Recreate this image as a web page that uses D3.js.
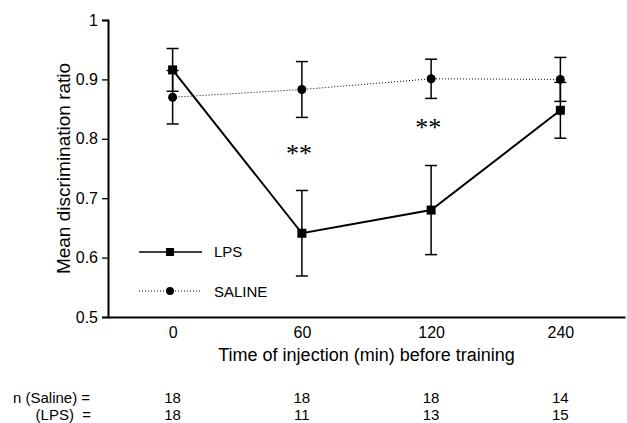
<!DOCTYPE html>
<html>
<head>
<meta charset="utf-8">
<script src="https://cdn.jsdelivr.net/npm/d3@7"></script>
<style>
  body { margin: 0; background: #fff; }
  text { font-family: "Liberation Sans", Arial, sans-serif; fill: #000; }
</style>
</head>
<body>
<div id="chart"></div>
<script>
// Data
const times = ["0", "60", "120", "240"];
const salineMean = [0.870, 0.883, 0.901, 0.900];
const salineErr = [0.045, 0.047, 0.033, 0.037];
const lpsMean = [0.916, 0.641, 0.680, 0.848];
const lpsErr = [0.036, 0.072, 0.075, 0.047];
const nSaline = [18, 18, 18, 14];
const nLps = [18, 11, 13, 15];
const yTicks = [0.5, 0.6, 0.7, 0.8, 0.9, 1];
const signifTimes = ["60", "120"];

const width = 627, height = 423;
const margin = {top: 20, right: 2, bottom: 106, left: 108};

const svg = d3.select("#chart").append("svg")
    .attr("width", width)
    .attr("height", height);

const x = d3.scalePoint()
    .domain(times)
    .range([margin.left, width - margin.right])
    .padding(0.5);

const y = d3.scaleLinear()
    .domain([0.5, 1])
    .range([height - margin.bottom, margin.top]);

// Y axis
const yAxis = svg.append("g")
    .attr("transform", `translate(${margin.left},0)`)
    .call(d3.axisLeft(y).tickValues(yTicks).tickFormat(d => d === 1 ? "1" : d3.format(".1f")(d)).tickSize(6).tickPadding(4));
yAxis.select(".domain").attr("stroke-width", 2);
yAxis.selectAll(".tick line").attr("stroke-width", 1.3);
yAxis.selectAll("text").style("font-size", "16px");

// X axis (line only, no tick marks)
const xAxis = svg.append("g")
    .attr("transform", `translate(0,${y(0.5)})`)
    .call(d3.axisBottom(x).tickSize(0).tickPadding(10).tickSizeOuter(0));
xAxis.select(".domain").attr("stroke-width", 2);
xAxis.selectAll("text").style("font-size", "16px");

// Axis titles
svg.append("text")
    .attr("transform", `translate(70,${(y(0.5) + y(1)) / 2}) rotate(-90)`)
    .attr("text-anchor", "middle")
    .style("font-size", "19px")
    .text("Mean discrimination ratio");

svg.append("text")
    .attr("x", (x("0") + x("240")) / 2)
    .attr("y", 361)
    .attr("text-anchor", "middle")
    .style("font-size", "18px")
    .text("Time of injection (min) before training");

const saline = times.map((t, i) => ({t: t, m: salineMean[i], e: salineErr[i]}));
const lps = times.map((t, i) => ({t: t, m: lpsMean[i], e: lpsErr[i]}));

const line = d3.line().x(d => x(d.t)).y(d => y(d.m));

// Saline series (dotted)
svg.append("path")
    .datum(saline)
    .attr("d", line)
    .attr("fill", "none")
    .attr("stroke", "#000")
    .attr("stroke-width", 1)
    .attr("stroke-dasharray", "1,2");

// LPS series (solid)
svg.append("path")
    .datum(lps)
    .attr("d", line)
    .attr("fill", "none")
    .attr("stroke", "#000")
    .attr("stroke-width", 2);

// Error bars
function errorBars(data) {
    const g = svg.append("g").attr("stroke", "#000").attr("stroke-width", 1.5);
    data.forEach(d => {
        const cx = x(d.t);
        g.append("line").attr("x1", cx).attr("x2", cx).attr("y1", y(d.m - d.e)).attr("y2", y(d.m + d.e));
        g.append("line").attr("x1", cx - 6).attr("x2", cx + 6).attr("y1", y(d.m + d.e)).attr("y2", y(d.m + d.e));
        g.append("line").attr("x1", cx - 6).attr("x2", cx + 6).attr("y1", y(d.m - d.e)).attr("y2", y(d.m - d.e));
    });
}
errorBars(saline);
errorBars(lps);

// Markers
svg.selectAll(".saline-pt")
    .data(saline)
    .enter().append("circle")
    .attr("class", "saline-pt")
    .attr("cx", d => x(d.t))
    .attr("cy", d => y(d.m))
    .attr("r", 4.5)
    .attr("fill", "#000");

svg.selectAll(".lps-pt")
    .data(lps)
    .enter().append("rect")
    .attr("class", "lps-pt")
    .attr("x", d => x(d.t) - 4.5)
    .attr("y", d => y(d.m) - 4.5)
    .attr("width", 9)
    .attr("height", 9)
    .attr("fill", "#000");

// Significance stars
svg.selectAll(".stars")
    .data(signifTimes)
    .enter().append("text")
    .attr("x", d => x(d) - 3)
    .attr("y", (d, i) => i === 0 ? 162 : 136)
    .attr("text-anchor", "middle")
    .style("font-family", "'Liberation Serif', serif")
    .style("font-size", "26px")
    .text("**");

// Legend
const legend = svg.append("g");
legend.append("line")
    .attr("x1", 139).attr("x2", 202).attr("y1", 252).attr("y2", 252)
    .attr("stroke", "#000").attr("stroke-width", 1.5);
legend.append("rect")
    .attr("x", 166).attr("y", 248).attr("width", 8).attr("height", 8).attr("fill", "#000");
legend.append("text")
    .attr("x", 214).attr("y", 257).style("font-size", "15px").text("LPS");
legend.append("line")
    .attr("x1", 139).attr("x2", 202).attr("y1", 291).attr("y2", 291)
    .attr("stroke", "#000").attr("stroke-width", 1).attr("stroke-dasharray", "1,2");
legend.append("circle")
    .attr("cx", 170).attr("cy", 291).attr("r", 4).attr("fill", "#000");
legend.append("text")
    .attr("x", 214).attr("y", 297).style("font-size", "15px").text("SALINE");

// n table
svg.append("text").attr("x", 13).attr("y", 403).style("font-size", "15px").text("n (Saline) =");
svg.append("text").attr("x", 91).attr("y", 420).attr("text-anchor", "end").style("font-size", "15px")
    .attr("xml:space", "preserve").text("(LPS)  =");

svg.selectAll(".n-sal")
    .data(nSaline)
    .enter().append("text")
    .attr("x", (d, i) => x(times[i]))
    .attr("y", 403)
    .attr("text-anchor", "middle")
    .style("font-size", "15px")
    .text(d => d);

svg.selectAll(".n-lps")
    .data(nLps)
    .enter().append("text")
    .attr("x", (d, i) => x(times[i]))
    .attr("y", 420)
    .attr("text-anchor", "middle")
    .style("font-size", "15px")
    .text(d => d);
</script>
</body>
</html>
